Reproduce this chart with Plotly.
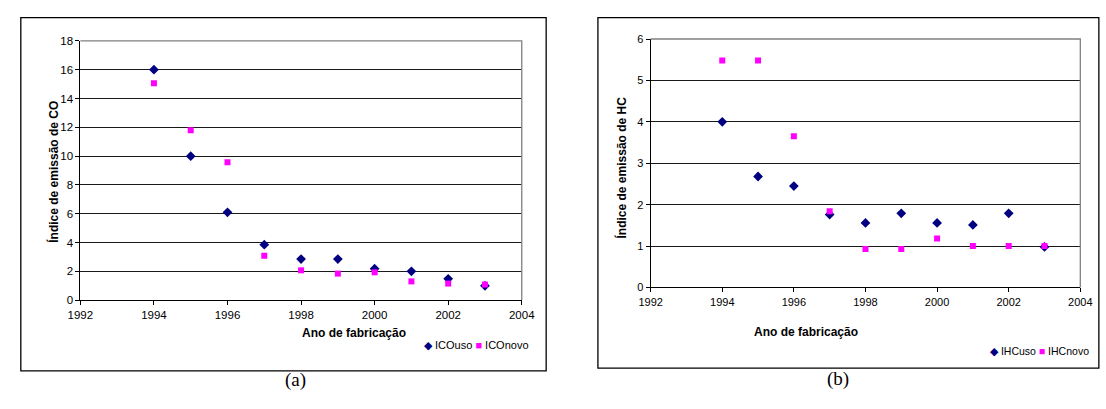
import plotly.graph_objects as go

W, H = 1106, 409

years = [1994, 1995, 1996, 1997, 1998, 1999, 2000, 2001, 2002, 2003]
co_uso = [16.0, 10.0, 6.1, 3.85, 2.85, 2.85, 2.18, 2.0, 1.48, 0.99]
co_novo = [15.06, 11.8, 9.57, 3.08, 2.07, 1.84, 1.93, 1.3, 1.15, 1.08]
hc_uso = [4.0, 2.68, 2.45, 1.76, 1.56, 1.79, 1.56, 1.51, 1.79, 0.98]
hc_novo = [5.48, 5.48, 3.65, 1.84, 0.93, 0.93, 1.18, 1.0, 1.0, 1.0]

x_ticks = [1992, 1994, 1996, 1998, 2000, 2002, 2004]
co_ticks = [0, 2, 4, 6, 8, 10, 12, 14, 16, 18]
hc_ticks = [0, 1, 2, 3, 4, 5, 6]

NAVY = "#000080"
MAG = "#FF00FF"
FONT = "Liberation Sans"


def px(x):
    return x / W


def py(y):
    return 1 - y / H


fig = go.Figure()
fig.add_trace(go.Scatter(x=years, y=co_uso, mode="markers", name="ICOuso",
                         marker=dict(symbol="diamond", size=7.5, color=NAVY),
                         xaxis="x", yaxis="y", showlegend=False))
fig.add_trace(go.Scatter(x=years, y=co_novo, mode="markers", name="ICOnovo",
                         marker=dict(symbol="square", size=6, color=MAG),
                         xaxis="x", yaxis="y", showlegend=False))
fig.add_trace(go.Scatter(x=years, y=hc_uso, mode="markers", name="IHCuso",
                         marker=dict(symbol="diamond", size=7.5, color=NAVY),
                         xaxis="x2", yaxis="y2", showlegend=False))
fig.add_trace(go.Scatter(x=years, y=hc_novo, mode="markers", name="IHCnovo",
                         marker=dict(symbol="square", size=6, color=MAG),
                         xaxis="x2", yaxis="y2", showlegend=False))

# plot-area pixel boxes
L = dict(x0=69, x1=521, y0=36, y1=303)
R = dict(x0=653, x1=1093, y0=34, y1=290)

axis_common = dict(showline=True, linecolor="#000000", linewidth=1, ticks="outside",
                   ticklen=4, tickcolor="#000000", zeroline=False)

fig.update_layout(
    width=W, height=H, margin=dict(l=0, r=0, t=0, b=0),
    paper_bgcolor="white", plot_bgcolor="white",
    font=dict(family=FONT, color="#000000"),
    xaxis=dict(domain=[px(L["x0"]), px(L["x1"])], range=[1992, 2004], tickvals=x_ticks,
               showgrid=False, anchor="y", tickfont=dict(size=11.5), **axis_common),
    yaxis=dict(domain=[py(L["y1"]), py(L["y0"])], range=[0, 18], tickvals=co_ticks,
               showgrid=True, gridcolor="#1a1a1a", gridwidth=1, anchor="x",
               tickfont=dict(size=11.5), **axis_common),
    xaxis2=dict(domain=[px(R["x0"]), px(R["x1"])], range=[1992, 2004], tickvals=x_ticks,
                showgrid=False, anchor="y2", tickfont=dict(size=11), **axis_common),
    yaxis2=dict(domain=[py(R["y1"]), py(R["y0"])], range=[0, 6], tickvals=hc_ticks,
                showgrid=True, gridcolor="#1a1a1a", gridwidth=1, anchor="x2",
                tickfont=dict(size=11), **axis_common),
)

shapes = []
# outer panel borders
shapes.append(dict(type="rect", xref="paper", yref="paper", x0=px(8), x1=px(546),
                   y0=py(376), y1=py(12), line=dict(color="#000000", width=1.3),
                   layer="below"))
shapes.append(dict(type="rect", xref="paper", yref="paper", x0=px(599), x1=px(1112),
                   y0=py(373), y1=py(12), line=dict(color="#000000", width=1.3),
                   layer="below"))
# gray frame on top and right of plot areas
for b in (L, R):
    shapes.append(dict(type="path", xref="paper", yref="paper",
                       path=f"M {px(b['x0'])},{py(b['y0'])} L {px(b['x1'])},{py(b['y0'])} L {px(b['x1'])},{py(b['y1'])}",
                       line=dict(color="#808080", width=1.3)))
fig.update_layout(shapes=shapes)

ann = []
# axis titles
ann.append(dict(text="<b>Ano de fabricação</b>", x=px(294), y=py(346), xref="paper", yref="paper",
                showarrow=False, font=dict(size=12, family=FONT)))
ann.append(dict(text="<b>Índice de emissão de CO</b>", x=px(32), y=py(171), xref="paper", yref="paper",
                showarrow=False, textangle=-90, font=dict(size=12, family=FONT)))
ann.append(dict(text="<b>Ano de fabricação</b>", x=px(867), y=py(345), xref="paper", yref="paper",
                showarrow=False, font=dict(size=12, family=FONT)))
ann.append(dict(text="<b>Índice de emissão de HC</b>", x=px(623), y=py(166), xref="paper", yref="paper",
                showarrow=False, textangle=-90, font=dict(size=12, family=FONT)))
# legends
ann.append(dict(text=f"<span style='color:{NAVY}'>◆</span> ICOuso <span style='color:{MAG}'>■</span> ICOnovo",
                x=px(530), y=py(358), xref="paper", yref="paper", xanchor="right",
                showarrow=False, font=dict(size=11, family=FONT)))
ann.append(dict(text=f"<span style='color:{NAVY}'>◆</span> IHCuso <span style='color:{MAG}'>■</span> IHCnovo",
                x=px(1104), y=py(364), xref="paper", yref="paper", xanchor="right",
                showarrow=False, font=dict(size=10.5, family=FONT)))
# captions
ann.append(dict(text="(a)", x=px(277), y=py(399), xref="paper", yref="paper",
                showarrow=False, font=dict(size=19, family="Liberation Serif")))
ann.append(dict(text="(b)", x=px(858), y=py(398), xref="paper", yref="paper",
                showarrow=False, font=dict(size=19, family="Liberation Serif")))
fig.update_layout(annotations=ann)

fig.write_html("out.html", config={"displayModeBar": False},
               post_script="document.body.style.margin='0';document.body.style.overflow='hidden';")
